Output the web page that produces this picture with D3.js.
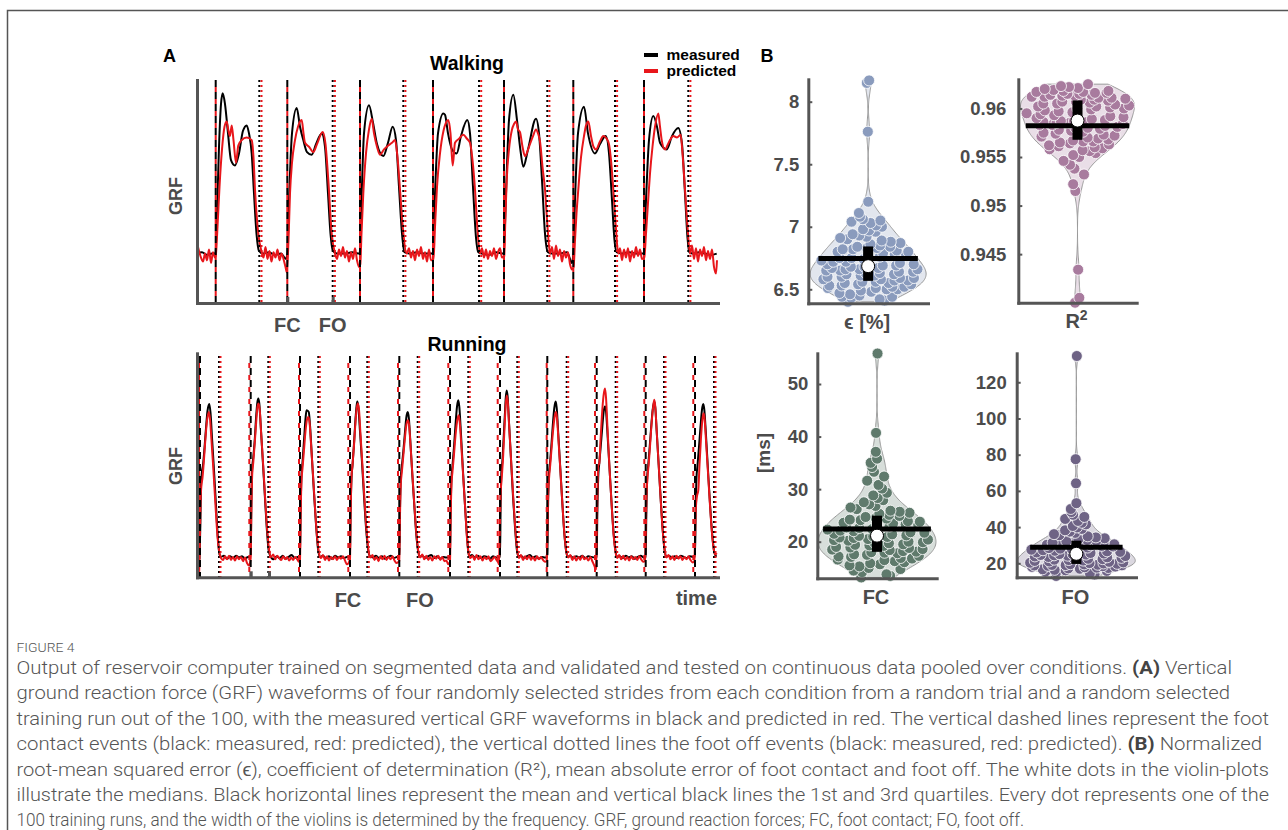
<!DOCTYPE html>
<html>
<head>
<meta charset="utf-8">
<script src="https://cdn.jsdelivr.net/npm/d3@7"></script>
<style>
  body { margin: 0; background: #fff; }
  svg { display: block; }
</style>
</head>
<body>
<svg id="chart" width="1288" height="830"></svg>
<script>
/* Figure 4 — GRF waveforms (A) and violin plots of RC performance (B) */

// ---- A: walking, GRF in body weights vs. frame index ----
var walkMeasured = [
  [0,0.0],[5,0.01],[10,-0.01],[15,0.0],[18.5,0.0],
  [20,0.3],[22,0.8],[24,1.12],[25.7,1.2],[28,1.12],[31,0.9],[34,0.7],[38,0.66],[42,0.75],[46,0.92],[49.7,0.96],[52,0.9],[54.7,0.75],[57,0.45],[59.5,0.15],[62,0.02],
  [66,0.0],[72,0.01],[78,-0.01],[84,0.0],[89,-0.04],[90.3,0.0],
  [92,0.4],[95,0.9],[99.7,1.09],[103,0.95],[106.3,0.85],[110,0.76],[114.7,0.74],[119,0.82],[124.7,0.9],[128,0.8],[131,0.45],[133.5,0.15],[136,0.02],
  [140,0.0],[148,0.0],[155,0.01],[162.7,0.0],
  [164.5,0.4],[167,0.9],[172,1.11],[176,0.98],[180,0.82],[186.3,0.73],[191,0.83],[195.7,0.95],[199,0.85],[202,0.5],[205,0.15],[207.5,0.01],
  [212,0.0],[220,0.01],[228,0.0],[235.7,0.0],
  [238,0.45],[241,0.9],[246.3,1.05],[248,1.04],[251,0.9],[255,0.78],[259.7,0.75],[264,0.88],[270.3,1.0],[273,0.9],[276,0.5],[279,0.12],[281.3,0.01],
  [285,0.0],[292,-0.01],[299,0.01],[306.7,0.0],
  [309,0.45],[312,1.0],[316.3,1.19],[320,1.0],[323,0.8],[326.3,0.65],[331,0.78],[339,1.01],[342,0.9],[345,0.55],[348,0.15],[351,0.01],
  [355,0.0],[362,0.0],[370,0.01],[375,-0.07],[376.3,0.0],
  [378,0.4],[381,0.9],[387,1.1],[391,0.9],[398,0.75],[403,0.82],[408.7,0.88],[412,0.75],[415,0.4],[417.5,0.1],[419.7,0.01],
  [424,0.0],[432,0.01],[440,0.0],[446.7,0.0],
  [449,0.4],[452,0.85],[456.3,1.03],[460,0.95],[463,0.83],[469.7,0.78],[475,0.88],[481.3,0.94],[485,0.82],[488,0.45],[490.5,0.12],[492.3,0.01],
  [496,0.0],[502,0.01],[508,0.0],[514,-0.01],[519.7,0.0]
];
var walkPredicted = [
  [0,0.08],[2,0.02],[4,-0.03],[6,-0.06],[8,0.0],[10,-0.05],[12,0.03],[14,-0.07],[16,0.01],[18,-0.03],
  [18.7,-0.02],[20.5,0.2],[22.5,0.5],[25,0.78],[27.5,0.95],[29.7,0.99],[31.5,0.92],[33,0.88],[34.7,0.96],[36.5,0.85],[39,0.68],[41.3,0.81],[44.7,0.85],[49.7,0.87],[54.7,0.85],[56.5,0.72],[58,0.48],[61.3,0.15],[64.7,0.01],
  [66.5,-0.03],[68.5,0.05],[70.5,-0.04],[72.5,0.02],[74.5,-0.06],[76.5,0.01],[78.5,-0.03],[80.5,0.03],[82.5,-0.05],[84.5,0.0],[86.5,-0.04],[88.5,-0.1],[89.8,-0.14],
  [91.5,0.1],[93,0.45],[95,0.68],[98,0.85],[101,0.95],[104.7,1.0],[106.5,0.9],[108,0.83],[112,0.8],[116.3,0.76],[120,0.82],[125.7,0.91],[128.5,0.82],[131.3,0.55],[134.7,0.15],[138,0.0],
  [140,-0.04],[142,0.03],[144,-0.02],[146,0.05],[148,-0.03],[150,0.02],[152,-0.06],[154,0.01],[156,-0.04],[158,0.04],[160,-0.05],[162,-0.1],
  [163.3,-0.08],[164.5,0.15],[166.3,0.45],[169,0.75],[172,0.93],[174.7,1.01],[177,0.9],[180,0.8],[183,0.74],[187,0.78],[191.3,0.81],[195,0.83],[198,0.85],[200.5,0.72],[203,0.48],[206,0.18],[209.7,0.0],
  [212,0.04],[214,-0.03],[216,0.02],[218,-0.05],[220,0.03],[222,-0.02],[224,0.05],[226,-0.04],[228,0.01],[230,-0.06],[232,0.03],[234,-0.05],
  [236.5,-0.05],[238,0.2],[240,0.5],[243,0.75],[246.5,0.92],[249,0.98],[251.3,1.0],[253.5,0.9],[255.7,0.66],[258,0.83],[262,0.86],[266.3,0.89],[270,0.86],[273,0.83],[275.5,0.7],[278,0.48],[280.5,0.18],[283,0.0],
  [285,0.04],[287,-0.03],[289,0.03],[291,-0.04],[293,0.02],[295,-0.02],[297,0.04],[299,-0.04],[301,0.01],[303,0.04],[305,-0.03],
  [307.3,-0.02],[308.3,0.25],[309.7,0.55],[312,0.78],[315,0.93],[317,0.97],[319,0.99],[321,0.93],[323,0.91],[325.5,0.8],[328,0.73],[332,0.8],[336,0.88],[339,0.93],[341,0.9],[343,0.84],[345.5,0.65],[348,0.48],[350.5,0.2],[353,0.0],
  [355,0.05],[357,-0.04],[359,0.06],[361,-0.02],[363,0.03],[365,-0.06],[367,0.02],[369,-0.03],[371,0.01],[373,-0.08],[375,-0.12],
  [376.6,-0.1],[378,0.1],[379.5,0.3],[381.3,0.48],[384,0.72],[387,0.88],[389,0.96],[391.3,0.99],[394,0.88],[396.5,0.8],[399,0.78],[403,0.84],[406.3,0.88],[409.7,0.86],[412,0.82],[414,0.7],[416.3,0.48],[418.8,0.2],[421.3,0.0],
  [423,0.04],[425,-0.05],[427,0.03],[429,-0.03],[431,0.04],[433,-0.06],[435,0.02],[437,-0.03],[439,0.05],[441,-0.02],[443,0.03],[445,-0.04],
  [447.3,-0.03],[449,0.15],[451,0.38],[453,0.6],[455.5,0.8],[458,0.95],[461.3,1.05],[463,0.95],[464.7,0.85],[468,0.78],[471,0.82],[473,0.85],[476.3,0.88],[480,0.87],[483.7,0.89],[485.5,0.75],[488,0.48],[490.5,0.2],[493,0.0],
  [495,0.06],[497,-0.04],[499,0.04],[501,-0.06],[503,0.03],[505,-0.02],[507,0.05],[509,-0.05],[511,0.02],[513,-0.04],[515,0.03],[517,-0.1],[519,-0.15],[520,-0.05]
];
var walkFCMeasured = [18.7, 90.3, 163, 236, 307, 376.3, 447];
var walkFCPredicted = [18.7, 90.3, 163, 236, 307, 376.3, 447];
var walkFOMeasured = [62.3, 135.7, 206.3, 282, 350.3, 418, 491.3];
var walkFOPredicted = [64.5, 137.9, 208.4, 284.2, 352.4, 420.1, 493.4];
var walkTicks = [90.3, 135.7];
var walkTickLabels = ['FC', 'FO'];
var walkTickLabelPos = [90.3, 135.7];

// ---- A: running ----
var runFCMeasured = [3, 53.7, 103, 153, 202.3, 253, 303, 350.3, 399.7, 448.7, 498];
var runFCPredicted = [2, 52.3, 102, 151.3, 201, 251.3, 300.7, 349.7, 398, 447.3, 496.3];
var runFOMeasured = [22, 71.3, 121.3, 170.3, 220.7, 271.3, 320.3, 369.7, 418.7, 467, 517];
var runFOPredicted = [23.5, 72.8, 122.8, 171.8, 222.2, 272.8, 321.8, 371.2, 420.2, 468.5, 518.5];
var runTicks = [53.7, 72];
var runTickLabels = ['FC', 'FO'];
var runTickLabelPos = [151, 223];

// stance + swing samples per stride, time given relative to the measured FC of that stride
var runMeasuredStrides = [
  [[-0.5,-0.02],[0.3,0.5],[1,1.15],[1.8,1.38],[3,1.5],[4.5,1.78],[6,2.1],[7.5,2.38],[9.3,2.49],[10.5,2.35],[12,1.95],[14,1.42],[16,0.85],[18,0.3],[19.5,0.06],[21,0.02],[24,0.04],[27,-0.01],[30,0.03],[33,0.0],[36,0.04],[39,0.01],[42,0.03],[45,-0.01],[48,0.02]],
  [[0,0.02],[0.6,0.8],[1.5,1.45],[2.6,1.63],[4,1.9],[5.5,2.3],[6.7,2.52],[7.6,2.58],[8.6,2.5],[10,2.15],[12,1.6],[14,1.05],[16,0.5],[18,0.12],[20,0.02],[23,-0.02],[26,0.03],[29,0.0],[32,0.04],[35,-0.01],[38,0.02],[41,0.05],[44,0.0],[47,0.02]],
  [[0,0.02],[0.6,0.7],[1.5,1.35],[2.5,1.55],[4,1.9],[5.5,2.25],[6.5,2.39],[7.7,2.38],[8.8,2.36],[10,2.15],[12,1.6],[14,1.05],[16,0.55],[18,0.15],[20,0.02],[23,0.04],[26,0.0],[29,0.03],[32,-0.01],[35,0.04],[38,0.01],[41,0.03],[44,0.0],[47,0.02]],
  [[0,0.03],[0.6,0.7],[1.5,1.3],[2.5,1.5],[4,1.85],[5.5,2.25],[6.5,2.45],[7.3,2.53],[8.3,2.45],[10,2.05],[12,1.55],[14,1.0],[16,0.5],[18,0.15],[20,0.03],[23,0.01],[26,0.04],[29,0.0],[32,0.03],[35,-0.01],[38,0.02],[41,0.04],[44,0.0],[47,0.02]],
  [[0,0.02],[0.6,0.7],[1.5,1.3],[2.5,1.48],[4,1.72],[5.5,2.0],[7,2.27],[8.4,2.36],[9.5,2.27],[11,1.9],[13,1.35],[15,0.85],[17,0.38],[19,0.1],[20.7,0.02],[23,0.04],[26,0.0],[29,0.03],[32,0.05],[35,0.0],[38,0.03],[41,-0.01],[44,0.02],[47,0.01]],
  [[0,0.01],[0.6,0.7],[1.5,1.3],[2.5,1.5],[4,1.8],[5.5,2.15],[7,2.45],[8.3,2.55],[9.3,2.45],[11,2.0],[13,1.4],[15,0.85],[17,0.35],[18.5,0.08],[19.5,0.03],[22,0.05],[25,0.01],[28,0.04],[31,0.0],[34,0.03],[37,0.02],[40,-0.01],[43,0.03],[46,0.01]],
  [[0,0.02],[0.6,0.8],[1.4,1.4],[2.3,1.55],[3.5,1.9],[4.8,2.3],[5.8,2.6],[6.7,2.71],[7.7,2.6],[9,2.2],[11,1.6],[13,1.0],[15,0.5],[17,0.12],[18.5,0.03],[21,0.04],[24,0.0],[27,0.03],[30,0.05],[33,0.01],[36,0.03],[39,-0.01],[42,0.02],[45,0.01]],
  [[0,0.02],[0.6,0.7],[1.5,1.3],[2.5,1.5],[4,1.8],[5.5,2.15],[7,2.43],[8.4,2.53],[9.4,2.43],[11,2.0],[13,1.45],[15,0.9],[17,0.4],[19,0.1],[20.4,0.02],[23,0.04],[26,0.0],[29,0.03],[32,0.01],[35,0.04],[38,0.0],[41,0.03],[44,0.02],[47.5,0.01]],
  [[0,0.02],[0.6,0.7],[1.5,1.3],[2.5,1.52],[4,1.8],[5.5,2.1],[7,2.37],[8.3,2.45],[9.3,2.38],[11,1.95],[13,1.4],[15,0.85],[17,0.38],[19,0.1],[20,0.02],[23,0.03],[26,0.0],[29,0.04],[32,0.01],[35,0.03],[38,-0.01],[41,0.02],[44,0.04],[47,0.01]],
  [[0,0.02],[0.6,0.7],[1.5,1.3],[2.5,1.5],[4,1.8],[5.5,2.12],[7,2.4],[8.6,2.53],[9.6,2.43],[11,2.05],[13,1.5],[15,0.95],[17,0.45],[19,0.12],[20.3,0.02],[23,0.04],[26,0.01],[29,0.03],[32,0.0],[35,0.04],[38,0.02],[41,0.0],[44,0.03],[47,0.02]],
  [[0,0.02],[0.6,0.7],[1.5,1.3],[2.5,1.5],[4,1.8],[5.5,2.12],[7,2.4],[8.3,2.49],[9.3,2.4],[11,1.98],[13,1.42],[15,0.88],[17,0.42],[19,0.12],[20.5,0.04],[21.7,0.03]]
];
var runPredictedStrides = [
  [[-0.8,-0.22],[-0.3,0.2],[0.5,0.9],[1.3,1.15],[2.5,1.3],[4,1.6],[5.5,1.95],[7,2.22],[8.8,2.36],[10,2.25],[11.5,1.9],[13.5,1.4],[15.5,0.85],[17.5,0.35],[19.5,0.08],[21,0.0],[23,-0.03],[25,0.03],[27,-0.02],[29,0.04],[31,-0.03],[33,0.02],[35,-0.04],[37,0.03],[39,-0.02],[41,0.02],[43,-0.05],[45,0.01],[47,-0.08],[49,-0.12]],
  [[0,0.0],[0.6,0.7],[1.5,1.35],[2.6,1.55],[4,1.85],[5.5,2.2],[6.8,2.45],[7.8,2.5],[9,2.4],[10.5,2.0],[12.5,1.5],[14.5,0.95],[16.5,0.45],[18.5,0.12],[20.5,0.02],[22.5,0.06],[24.5,-0.02],[26.5,0.04],[28.5,0.0],[30.5,-0.03],[32.5,0.03],[34.5,-0.02],[36.5,0.02],[38.5,-0.04],[40.5,0.01],[42.5,-0.03],[44.5,0.02],[46.5,-0.02],[48.5,-0.06]],
  [[0,-0.03],[0.6,0.65],[1.5,1.25],[2.5,1.45],[4,1.75],[5.5,2.05],[7,2.24],[8.3,2.28],[9.5,2.2],[11,1.85],[13,1.35],[15,0.82],[17,0.35],[19,0.08],[21,0.0],[23,0.05],[25,-0.03],[27,0.03],[29,-0.04],[31,0.02],[33,-0.02],[35,0.03],[37,-0.03],[39,0.02],[41,-0.01],[43,0.03],[45,-0.04],[47,-0.1]],
  [[0,-0.02],[0.6,0.7],[1.5,1.3],[2.5,1.5],[4,1.82],[5.5,2.2],[6.7,2.42],[7.8,2.5],[9,2.4],[10.5,2.0],[12.5,1.48],[14.5,0.95],[16.5,0.45],[18.5,0.12],[20.5,0.01],[22.5,0.05],[24.5,-0.03],[26.5,0.02],[28.5,-0.05],[30.5,0.03],[32.5,-0.02],[34.5,0.04],[36.5,-0.03],[38.5,0.02],[40.5,-0.02],[42.5,0.03],[44.5,-0.04],[46.5,-0.08]],
  [[0,-0.05],[0.6,0.6],[1.5,1.2],[2.5,1.38],[4,1.65],[5.5,1.92],[7,2.15],[8.6,2.23],[9.8,2.15],[11.3,1.8],[13.3,1.3],[15.3,0.8],[17.3,0.35],[19.3,0.08],[21,0.01],[23,0.06],[25,-0.02],[27,0.04],[29,-0.03],[31,0.02],[33,-0.04],[35,0.03],[37,-0.01],[39,0.04],[41,-0.03],[43,0.02],[45,-0.05],[47,-0.04],[49,-0.1]],
  [[0,-0.06],[0.6,0.6],[1.5,1.2],[2.5,1.4],[4,1.68],[5.5,1.98],[7,2.2],[8.5,2.31],[9.6,2.22],[11.2,1.85],[13.2,1.32],[15.2,0.8],[17,0.32],[18.8,0.06],[20.5,0.0],[22.5,0.04],[24.5,-0.03],[26.5,0.05],[28.5,-0.02],[30.5,0.03],[32.5,-0.04],[34.5,0.02],[36.5,-0.02],[38.5,0.03],[40.5,-0.05],[42.5,-0.02],[44.5,0.02],[46.5,-0.03],[48.5,-0.08]],
  [[-1,-0.1],[-0.3,0.4],[0.5,1.0],[1.7,1.29],[3,1.6],[4.5,2.1],[5.8,2.5],[6.8,2.63],[7.8,2.52],[9.2,2.12],[11.2,1.55],[13.2,1.0],[15.2,0.5],[17.2,0.12],[19,0.0],[21,0.05],[23,-0.03],[25,0.03],[27,-0.02],[29,0.04],[31,-0.03],[33,0.02],[35,-0.04],[37,0.03],[39,-0.02],[41,0.02],[43,-0.03],[45,-0.06]],
  [[-0.6,-0.05],[0,0.35],[0.8,1.0],[1.8,1.3],[3,1.52],[4.5,1.82],[6,2.1],[7.5,2.3],[8.6,2.36],[9.6,2.28],[11.2,1.9],[13.2,1.38],[15.2,0.85],[17.2,0.38],[19.2,0.08],[21,0.01],[23,0.05],[25,-0.03],[27,0.03],[29,-0.04],[31,0.02],[33,-0.03],[35,0.04],[37,-0.02],[39,0.01],[41,-0.04],[43,0.02],[45,-0.05],[47,-0.12],[48.5,-0.18]],
  [[-0.6,-0.15],[0,0.4],[0.8,1.1],[1.6,1.5],[2.6,1.53],[3.8,1.9],[5.2,2.3],[6.8,2.62],[8.3,2.74],[9.3,2.6],[10.8,2.1],[12.8,1.45],[14.8,0.9],[16.8,0.4],[18.8,0.1],[20.5,0.0],[22.5,0.05],[24.5,-0.02],[26.5,0.04],[28.5,-0.03],[30.5,0.02],[32.5,-0.04],[34.5,0.03],[36.5,-0.02],[38.5,0.02],[40.5,-0.03],[42.5,0.03],[44.5,-0.02],[46.5,-0.06]],
  [[-0.6,-0.05],[0,0.35],[0.8,1.0],[1.8,1.3],[3,1.52],[4.5,1.85],[6,2.2],[7.5,2.45],[8.6,2.56],[9.6,2.45],[11,2.05],[13,1.5],[15,0.95],[17,0.45],[19,0.12],[20.8,0.01],[22.8,0.05],[24.8,-0.02],[26.8,0.03],[28.8,-0.03],[30.8,0.04],[32.8,-0.01],[34.8,0.03],[36.8,-0.03],[38.8,0.02],[40.8,-0.02],[42.8,0.03],[44.8,-0.03],[47,-0.07]],
  [[-0.6,-0.05],[0,0.3],[0.8,0.8],[2,1.0],[3.3,1.1],[4.5,1.5],[6,1.95],[7.5,2.25],[8.6,2.34],[9.6,2.25],[11,1.9],[13,1.38],[15,0.85],[17,0.4],[19,0.12],[20.5,0.06],[21.7,0.08]]
];

// ---- B: 100 training runs per metric ----
var epsValues = [
  6.40,6.41,6.42,6.43,6.44,6.44,6.45,6.46,6.47,6.48,6.49,6.50,
  6.50,6.51,6.51,6.52,6.52,6.53,6.53,6.54,6.54,6.55,6.55,6.56,6.56,
  6.57,6.57,6.58,6.58,6.59,6.59,6.60,6.60,6.61,6.61,6.62,6.62,6.63,6.63,6.64,6.64,6.65,6.65,6.66,6.66,6.66,6.67,6.67,6.68,6.68,
  6.69,6.69,6.70,6.70,6.71,6.72,6.72,6.73,6.74,6.75,6.75,6.76,6.77,6.78,6.78,6.79,6.80,6.80,6.81,6.82,6.82,6.83,6.83,6.84,6.84,
  6.85,6.86,6.87,6.88,6.89,6.90,6.91,6.92,6.93,6.94,6.96,6.97,6.98,7.00,7.01,7.03,7.04,7.05,7.06,7.08,7.11,7.20,7.76,8.15,8.17
];
var r2Values = [
  0.9400,0.9405,0.9434,0.9515,0.9522,
  0.9532,0.9538,0.9542,0.9546,0.9550,0.9552,0.9554,0.9556,0.9557,0.9558,0.9559,0.9560,0.9561,0.9562,0.9563,0.9564,0.9565,0.9566,0.9566,0.9567,
  0.9568,0.9569,0.9570,0.9571,0.9572,0.9573,0.9574,0.9575,0.9576,0.9577,0.9578,0.9579,0.9580,0.9580,0.9581,0.9582,0.9583,0.9583,0.9584,0.9585,0.9585,0.9586,0.9586,0.9587,0.9587,
  0.9588,0.9589,0.9590,0.9591,0.9592,0.9593,0.9594,0.9595,0.9596,0.9597,0.9598,0.9599,0.9600,0.9600,0.9601,0.9602,0.9602,0.9603,0.9604,0.9605,0.9605,0.9606,0.9607,0.9607,0.9608,
  0.9609,0.9609,0.9610,0.9611,0.9611,0.9612,0.9612,0.9613,0.9613,0.9614,0.9614,0.9615,0.9615,0.9616,0.9616,0.9617,0.9617,0.9618,0.9618,0.9619,0.9620,0.9621,0.9622,0.9623,0.9625
];
var fcValues = [
  13.2,13.5,13.8,14.2,14.5,14.8,15.0,15.3,15.5,15.7,15.9,16.1,16.3,16.5,16.6,16.8,16.9,17.1,17.2,17.3,17.5,17.6,17.8,17.9,18.0,
  18.1,18.2,18.4,18.5,18.6,18.8,18.9,19.0,19.2,19.3,19.4,19.5,19.7,19.8,19.9,20.0,20.2,20.3,20.4,20.5,20.7,20.8,20.9,21.0,21.1,
  21.2,21.4,21.5,21.7,21.8,22.0,22.1,22.3,22.4,22.6,22.7,22.9,23.0,23.2,23.3,23.5,23.6,23.8,23.9,24.1,24.2,24.4,24.5,24.7,24.9,
  25.1,25.3,25.5,25.7,25.9,26.2,26.5,26.8,27.1,27.5,27.9,28.3,28.8,29.3,30.1,30.8,31.6,32.4,33.3,34.2,35.0,35.8,37.1,40.7,55.8
];
var foValues = [
  13.0,13.8,14.5,15.0,15.4,15.8,16.1,16.4,16.7,17.0,17.2,17.4,17.6,17.8,18.0,18.2,18.4,18.6,18.8,18.9,19.0,19.1,19.2,19.4,19.5,
  19.7,19.9,20.1,20.3,20.5,20.8,21.0,21.3,21.5,21.8,22.0,22.3,22.5,22.8,23.0,23.3,23.5,23.8,24.0,24.2,24.4,24.6,24.8,25.0,25.1,
  25.4,25.7,26.0,26.3,26.6,26.9,27.2,27.5,27.8,28.1,28.4,28.7,29.0,29.3,29.6,29.9,30.2,30.5,30.8,31.1,31.4,31.7,32.0,32.2,32.4,
  32.8,33.3,33.8,34.3,34.9,35.5,36.1,36.8,37.5,38.2,39.0,39.8,40.6,41.5,42.4,43.4,44.5,45.6,46.8,48.3,50.0,53.2,64.2,77.5,134.5
];
var epsTicks = [6.5, 7, 7.5, 8];
var r2Ticks = [0.945, 0.95, 0.955, 0.96];
var fcTicks = [20, 30, 40, 50];
var foTicks = [20, 40, 60, 80, 100, 120];

var captionLines = [
  ['Output of reservoir computer trained on segmented data and validated and tested on continuous data pooled over conditions. ', ['(A)'], ' Vertical'],
  ['ground reaction force (GRF) waveforms of four randomly selected strides from each condition from a random trial and a random selected'],
  ['training run out of the 100, with the measured vertical GRF waveforms in black and predicted in red. The vertical dashed lines represent the foot'],
  ['contact events (black: measured, red: predicted), the vertical dotted lines the foot off events (black: measured, red: predicted). ', ['(B)'], ' Normalized'],
  ['root-mean squared error (\u03f5), coefficient of determination (R\u00b2), mean absolute error of foot contact and foot off. The white dots in the violin-plots'],
  ['illustrate the medians. Black horizontal lines represent the mean and vertical black lines the 1st and 3rd quartiles. Every dot represents one of the'],
  ['100 training runs, and the width of the violins is determined by the frequency. GRF, ground reaction forces; FC, foot contact; FO, foot off.']
];
var captionEnds = [1232, 1230, 1269, 1262, 1269, 1269, 1024];

// ---------------------------------------------------------------------------
var FONT = '"Liberation Sans", Arial, Helvetica, sans-serif';
var AXIS_COLOR = '#555555';
var LABEL_COLOR = '#4b4b4b';
var RED = '#e8161b';

var svg = d3.select('#chart');

// figure frame
svg.append('path').attr('d', 'M7.5,830 V10.5 H1288').attr('fill', 'none')
  .attr('stroke', '#555').attr('stroke-width', 1.5);

function addText(x, y, str, size, opts) {
  opts = opts || {};
  return svg.append('text').attr('x', x).attr('y', y).text(str)
    .attr('font-family', FONT).attr('font-size', size)
    .attr('font-weight', opts.weight || 'bold')
    .attr('fill', opts.fill || '#000')
    .attr('text-anchor', opts.anchor || 'start');
}

function styleDomain(g) {
  g.select('.domain').attr('stroke', AXIS_COLOR).attr('stroke-width', 3).attr('stroke-linecap', 'square');
}

function drawGrfPanel(p) {
  var x = d3.scaleLinear().domain([0, 521]).range([197, 718]);
  var y = d3.scaleLinear().domain(p.yDomain).range([p.bottom, p.top]);
  var g = svg.append('g');
  var line = d3.line().x(function(d) { return x(d[0]); }).y(function(d) { return y(d[1]); })
    .curve(d3.curveMonotoneX);

  g.append('path').datum(p.measured).attr('fill', 'none').attr('stroke', '#000')
    .attr('stroke-width', 2).attr('stroke-linejoin', 'round').attr('d', line);
  g.append('path').datum(p.predicted).attr('fill', 'none').attr('stroke', RED)
    .attr('stroke-width', 2).attr('stroke-linejoin', 'round').attr('d', line);

  function events(times, color, dash, offset) {
    g.append('g').selectAll('line').data(times).join('line')
      .attr('x1', function(d) { return x(d); }).attr('x2', function(d) { return x(d); })
      .attr('y1', p.lineTop).attr('y2', p.bottom)
      .attr('stroke', color).attr('stroke-width', 2)
      .attr('stroke-dasharray', dash).attr('stroke-dashoffset', offset);
  }
  events(p.fcMeasured, '#000', '7,5', 0);
  events(p.fcPredicted, RED, '5,7', -7);
  events(p.foMeasured, '#000', '2,3', 0);
  events(p.foPredicted, RED, '2,3', 0);

  var yAxis = g.append('g').attr('transform', 'translate(197,0)')
    .call(d3.axisLeft(y).tickValues([]).tickSizeOuter(0));
  styleDomain(yAxis);
  var xAxis = g.append('g').attr('transform', 'translate(0,' + p.bottom + ')')
    .call(d3.axisBottom(x).tickValues(p.ticks).tickFormat('').tickSizeInner(-6).tickSizeOuter(0));
  styleDomain(xAxis);
  xAxis.selectAll('.tick line').attr('stroke', AXIS_COLOR).attr('stroke-width', 3);

  p.tickLabels.forEach(function(lab, i) {
    addText(x(p.tickLabelPos[i]), p.labelY, lab, 20, { anchor: 'middle', fill: LABEL_COLOR });
  });

  svg.append('text').attr('transform', 'translate(182,' + p.grfY + ') rotate(-90)')
    .attr('text-anchor', 'middle').attr('font-family', FONT).attr('font-size', 18)
    .attr('font-weight', 'bold').attr('fill', LABEL_COLOR).text('GRF');

  addText(467, p.titleY, p.title, 19.5, { anchor: 'middle' });
}

function expand(fcs, strides) {
  var out = [];
  strides.forEach(function(s, i) {
    s.forEach(function(d) { out.push([fcs[i] + d[0], d[1]]); });
  });
  return out;
}

drawGrfPanel({
  title: 'Walking', titleY: 69.5, yDomain: [-0.37, 1.3], top: 80, bottom: 303, lineTop: 80,
  measured: walkMeasured, predicted: walkPredicted,
  fcMeasured: walkFCMeasured, fcPredicted: walkFCPredicted,
  foMeasured: walkFOMeasured, foPredicted: walkFOPredicted,
  ticks: walkTicks, tickLabels: walkTickLabels, tickLabelPos: walkTickLabelPos,
  labelY: 332, grfY: 196
});

drawGrfPanel({
  title: 'Running', titleY: 350.5, yDomain: [-0.31, 3.31], top: 353.3, bottom: 577.3, lineTop: 356,
  measured: expand(runFCMeasured, runMeasuredStrides),
  predicted: expand(runFCMeasured, runPredictedStrides),
  fcMeasured: runFCMeasured, fcPredicted: runFCPredicted,
  foMeasured: runFOMeasured, foPredicted: runFOPredicted,
  ticks: runTicks, tickLabels: runTickLabels, tickLabelPos: runTickLabelPos,
  labelY: 606.5, grfY: 466
});

addText(717, 605, 'time', 20, { anchor: 'end', fill: LABEL_COLOR });

// panel letters + legend
addText(163, 61.7, 'A', 18);
addText(760.5, 61.7, 'B', 18);
svg.append('line').attr('x1', 644).attr('x2', 658).attr('y1', 55).attr('y2', 55)
  .attr('stroke', '#000').attr('stroke-width', 4);
svg.append('line').attr('x1', 644).attr('x2', 658).attr('y1', 71).attr('y2', 71)
  .attr('stroke', RED).attr('stroke-width', 4);
addText(666.5, 59.5, 'measured', 15.5);
addText(666.5, 75.5, 'predicted', 15.5);

// ---- violins ----
function drawViolin(p) {
  var y = d3.scaleLinear().domain(p.domain).range([p.bottom, p.top]);
  var cx = (p.axisX + p.axisEnd) / 2;
  var vals = p.values;
  var sorted = vals.slice().sort(d3.ascending);
  var n = vals.length;
  var q1 = d3.quantile(sorted, 0.25), q3 = d3.quantile(sorted, 0.75);
  var med = d3.median(vals), mean = d3.mean(vals);
  // ksdensity-style bandwidth (median absolute deviation)
  var mad = d3.median(vals, function(v) { return Math.abs(v - med); });
  var bw = (mad / 0.6745) * Math.pow(4 / (3 * n), 0.2);
  function kde(v) {
    return d3.mean(vals, function(d) { var u = (v - d) / bw; return Math.exp(-0.5 * u * u); });
  }
  var lo = sorted[0], hi = sorted[n - 1];
  var dens = d3.range(0, 201).map(function(i) { var v = lo + (hi - lo) * i / 200; return [v, kde(v)]; });
  var w = d3.scaleLinear().domain([0, d3.max(dens, function(d) { return d[1]; })]).range([0, p.halfWidth]);

  var g = svg.append('g');
  var area = d3.area().curve(d3.curveBasis)
    .y(function(d) { return y(d[0]); })
    .x0(function(d) { return cx - w(d[1]); })
    .x1(function(d) { return cx + w(d[1]); });
  g.append('path').datum(dens).attr('d', area)
    .attr('fill', p.color).attr('fill-opacity', 0.25)
    .attr('stroke', '#9a9a9a').attr('stroke-width', 1);

  // dots spread across the violin width (deterministic jitter)
  g.append('g').selectAll('circle').data(vals).join('circle')
    .attr('cx', function(d, i) {
      var f = ((((i * 37) % 101) * 0.6180339887) % 1) - 0.5;
      return cx + f * 2 * 0.92 * w(kde(d));
    })
    .attr('cy', function(d) { return y(d); })
    .attr('r', 5.5).attr('fill', p.color).attr('stroke', '#fff').attr('stroke-width', 0.8);

  var mw = w(kde(mean));
  g.append('line').attr('x1', cx - mw).attr('x2', cx + mw)
    .attr('y1', y(mean)).attr('y2', y(mean)).attr('stroke', '#000').attr('stroke-width', 5);
  g.append('rect').attr('x', cx - 5).attr('width', 10)
    .attr('y', y(q3)).attr('height', y(q1) - y(q3)).attr('fill', '#000');
  g.append('circle').attr('cx', cx).attr('cy', y(med)).attr('r', 6.5)
    .attr('fill', '#fff').attr('stroke', '#000').attr('stroke-width', 1);

  var yAxis = g.append('g').attr('transform', 'translate(' + p.axisX + ',0)')
    .call(d3.axisLeft(y).tickValues(p.ticks).tickFormat(d3.format('')).tickSizeInner(-4).tickSizeOuter(0).tickPadding(p.pad || 9));
  styleDomain(yAxis);
  yAxis.selectAll('.tick line').attr('stroke', AXIS_COLOR).attr('stroke-width', 2);
  yAxis.selectAll('.tick text').attr('fill', LABEL_COLOR).attr('font-family', FONT)
    .attr('font-size', 18.5).attr('font-weight', 'bold');
  var xs = d3.scaleLinear().domain([0, 1]).range([p.axisX, p.axisEnd]);
  var xAxis = g.append('g').attr('transform', 'translate(0,' + p.bottom + ')')
    .call(d3.axisBottom(xs).tickValues([]).tickSizeOuter(0));
  styleDomain(xAxis);

  var lab = svg.append('text').attr('x', cx - 1).attr('y', p.labelY).attr('text-anchor', 'middle')
    .attr('font-family', FONT).attr('font-size', 20).attr('font-weight', 'bold').attr('fill', LABEL_COLOR);
  lab.append('tspan').text(p.label);
  if (p.sup) lab.append('tspan').attr('dy', -8).attr('font-size', 14).text(p.sup);
}

drawViolin({ values: epsValues, ticks: epsTicks, domain: [6.388, 8.179], color: '#8a9bbd',
  axisX: 808.3, axisEnd: 928, top: 79.3, bottom: 303.3, halfWidth: 58, label: '\u03f5 [%]', labelY: 329 });
drawViolin({ values: r2Values, ticks: r2Ticks, domain: [0.94, 0.963], color: '#a87b9e', pad: 12,
  axisX: 1018.3, axisEnd: 1136.7, top: 79.3, bottom: 302.7, halfWidth: 57, label: 'R', sup: '2', labelY: 328 });
drawViolin({ values: fcValues, ticks: fcTicks, domain: [13.04, 55.84], color: '#5f7a6c',
  axisX: 817.3, axisEnd: 936.7, top: 353.3, bottom: 578.3, halfWidth: 59, label: 'FC', labelY: 604 });
drawViolin({ values: foValues, ticks: foTicks, domain: [12.27, 136], color: '#6e6385', pad: 10,
  axisX: 1016.7, axisEnd: 1136, top: 353.3, bottom: 577.3, halfWidth: 59, label: 'FO', labelY: 604 });

svg.append('text').attr('transform', 'translate(770,453) rotate(-90)')
  .attr('text-anchor', 'middle').attr('font-family', FONT).attr('font-size', 19)
  .attr('font-weight', 'bold').attr('fill', LABEL_COLOR).text('[ms]');

// ---- caption ----
var CAP_FONT = 'Roboto, "Open Sans", sans-serif';
svg.append('text').attr('x', 16.5).attr('y', 652).text('FIGURE 4')
  .attr('font-family', CAP_FONT).attr('font-size', 13).attr('font-weight', 300).attr('fill', '#555')
  .attr('textLength', 58).attr('lengthAdjust', 'spacingAndGlyphs');

captionLines.forEach(function(parts, i) {
  var t = svg.append('text').attr('x', 16.5).attr('y', 674 + i * 25.4)
    .attr('font-family', CAP_FONT).attr('font-size', 18).attr('font-weight', 300).attr('fill', '#555')
    .attr('textLength', captionEnds[i] - 16.5).attr('lengthAdjust', 'spacingAndGlyphs');
  parts.forEach(function(part) {
    if (Array.isArray(part)) t.append('tspan').attr('font-weight', 'bold').attr('fill', '#444').text(part[0]);
    else t.append('tspan').text(part);
  });
});
</script>
</body>
</html>
